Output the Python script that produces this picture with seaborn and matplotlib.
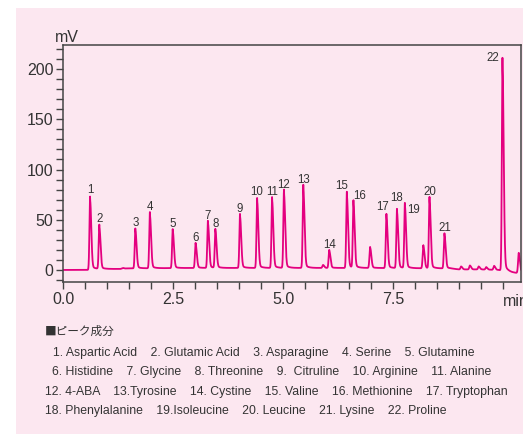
import numpy as np
import pandas as pd
import matplotlib
matplotlib.use("Agg")
import matplotlib.pyplot as plt
import seaborn as sns
from matplotlib.patches import Rectangle
from matplotlib.ticker import MultipleLocator

# ---- peak table (retention time in min, height in mV) ----
peak_ids = ["1", "2", "3", "4", "5", "6", "7", "8", "9", "10", "11",
            "12", "13", "14", "15", "16", "17", "18", "19", "20", "21", "22"]
peak_times = [0.61, 0.82, 1.64, 1.97, 2.49, 3.01, 3.29, 3.46, 4.02, 4.41, 4.75,
              5.02, 5.46, 6.05, 6.45, 6.60, 7.35, 7.59, 7.77, 8.33, 8.67, 9.99]
peak_heights = [73, 44, 40, 56, 39, 25, 47, 39, 54, 70, 71,
                78, 83, 18, 76, 67, 54, 59, 65, 71, 35, 213]

# unlabelled minor peaks
minor_times = [5.91, 6.98, 8.19, 9.05, 9.25, 9.45, 9.62, 9.80, 10.36]
minor_heights = [3, 21, 23, 3, 4, 3, 2.5, 4, 20]

# baseline drift (time, mV)
base_t = [0.0, 0.55, 0.7, 1.3, 1.36, 1.4, 3.0, 5.0, 7.0, 8.8, 9.0, 9.5, 9.9, 10.2, 10.3, 10.42]
base_v = [0.0, 0.0, 1.0, 1.0, 2.0, 1.5, 2.0, 2.0, 2.0, 1.5, 0.5, 0.5, 0.0, -2.5, -3.0, -3.0]

x_ticks = [0.0, 2.5, 5.0, 7.5, 10.0]
x_ticklabels = ["0.0", "2.5", "5.0", "7.5", ""]
y_ticks = [0, 50, 100, 150, 200]

legend_title = "■ピーク成分"
legend_lines = [
    "1. Aspartic Acid    2. Glutamic Acid    3. Asparagine    4. Serine    5. Glutamine",
    "6. Histidine    7. Glycine    8. Threonine    9.  Citruline    10. Arginine    11. Alanine",
    "12. 4-ABA    13.Tyrosine    14. Cystine    15. Valine    16. Methionine    17. Tryptophan",
    "18. Phenylalanine    19.Isoleucine    20. Leucine    21. Lysine    22. Proline",
]

# ---- build the detector trace from the peak table ----
t = np.linspace(0, 10.42, 5000)


def tailed_peak(x, t0, h, sl, sr, tail=0.06, tau=0.07):
    s = np.where(x < t0, sl, sr)
    core = np.exp(-0.5 * ((x - t0) / s) ** 2)
    dt = np.clip(x - t0, 0, None)
    rise = 1 - np.exp(-0.5 * (dt / sr) ** 2)
    return h * (core * (1 - tail) + tail * rise * np.exp(-dt / tau) * (x >= t0)
                + tail * core * (x < t0))


signal = np.interp(t, base_t, base_v)
for t0, h in zip(peak_times, peak_heights):
    signal += tailed_peak(t, t0, h, 0.015, 0.026)
for t0, h in zip(minor_times, minor_heights):
    signal += tailed_peak(t, t0, h, 0.016, 0.026)

df = pd.DataFrame({"time": t, "mV": signal})

# ---- figure ----
sns.set_style("ticks")
plt.rcParams["font.family"] = ["Liberation Sans", "Noto Sans CJK JP", "DejaVu Sans"]

PINK_BG = "#fce7f0"
LINE = "#e4007f"
TEXT = "#333333"

W, H = 523, 434
fig = plt.figure(figsize=(W / 100, H / 100), dpi=100, facecolor="white")
fig.patches.append(Rectangle((16 / W, 0), 1 - 16 / W, 1 - 8 / H,
                             transform=fig.transFigure, facecolor=PINK_BG,
                             edgecolor="none", zorder=-10))

ax = fig.add_axes([63.3 / W, 1 - 282 / H, (521 - 63.3) / W, (282 - 45) / H])
ax.set_facecolor(PINK_BG)

sns.lineplot(data=df, x="time", y="mV", ax=ax, color=LINE, linewidth=1.3,
             estimator=None, sort=False)

ax.set_xlim(0, 10.41)
ax.set_ylim(-12, 224)
ax.set_xlabel("")
ax.set_ylabel("")

ax.set_xticks(x_ticks)
ax.set_xticklabels(x_ticklabels)
ax.xaxis.set_minor_locator(MultipleLocator(0.5))
ax.set_yticks(y_ticks)
ax.yaxis.set_minor_locator(MultipleLocator(10))

for side in ["top", "right", "left", "bottom"]:
    ax.spines[side].set_visible(True)
    ax.spines[side].set_color("#444444")
    ax.spines[side].set_linewidth(1.1)

ax.tick_params(axis="both", which="both", direction="out", color="#444444",
               width=1.0, labelcolor=TEXT, labelsize=11.5)
ax.tick_params(axis="both", which="major", length=5, pad=2)
ax.tick_params(axis="both", which="minor", length=5)

ax.text(0.008, 1.0, "mV", transform=ax.transAxes, ha="center", va="bottom",
        fontsize=11.5, color=TEXT)
ax.text(10.0, -0.05, "min", transform=ax.get_xaxis_transform(), ha="left",
        va="top", fontsize=11.5, color=TEXT, clip_on=False)

# peak number labels (pixel offsets from each apex)
label_offsets = {"10": (-1, 8), "15": (-5, 8), "16": (6, 7), "17": (-4, 9),
                 "18": (0, 13), "19": (9, -5), "22": (-10, -2)}
for pid, t0, h in zip(peak_ids, peak_times, peak_heights):
    dx, dy = label_offsets.get(pid, (0, 7))
    ax.annotate(pid, xy=(t0, h), xytext=(dx, dy), textcoords="offset pixels",
                ha="center", va="center", fontsize=8.3, color=TEXT)

# component list below the plot
fig.text(45 / W, 1 - 331 / H, legend_title, ha="left", va="center",
         fontsize=8.4, color=TEXT,
         family=["Noto Sans CJK JP", "DejaVu Sans"])
line_x = [53, 52, 45, 45]
line_y = [353, 372, 392, 411]
for s, lx, ly in zip(legend_lines, line_x, line_y):
    fig.text(lx / W, 1 - ly / H, s, ha="left", va="center", fontsize=8.85,
             color=TEXT)

fig.savefig("out.png", dpi=100, facecolor=fig.get_facecolor())
